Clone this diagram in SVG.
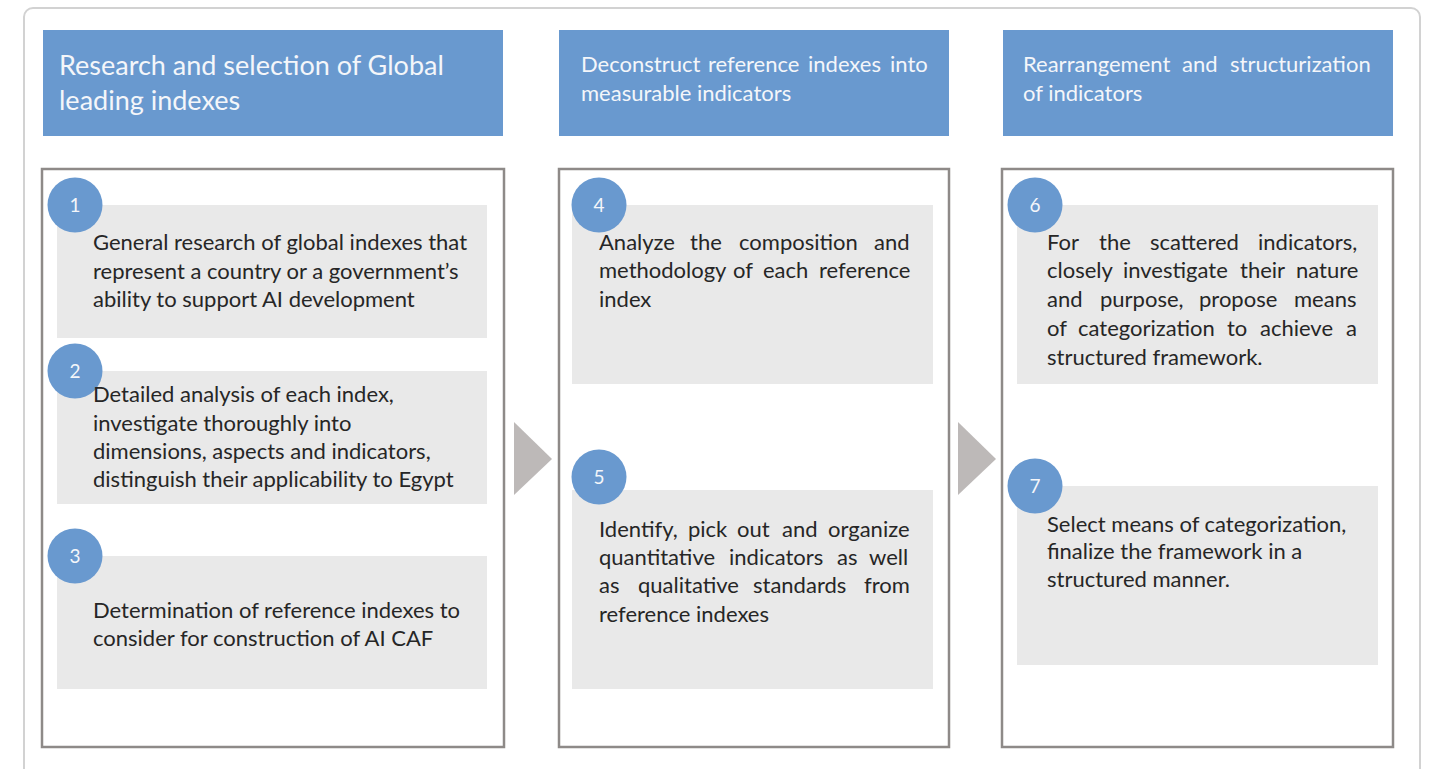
<svg xmlns="http://www.w3.org/2000/svg" width="1430" height="769" viewBox="0 0 1430 769">
<style>
.frame{fill:#ffffff;stroke:#d2d2d2;stroke-width:2}
.head{fill:#6999cf}
.col{fill:#ffffff;stroke:#8e8a88;stroke-width:2.5}
.card{fill:#e9e9e9}
.num{fill:#6999cf}
.ntxt{font-family:Lato,"Open Sans",sans-serif;font-size:19px;fill:#f4f6fa;text-anchor:middle}
.h1{font-family:Lato,"Open Sans",sans-serif;font-size:27px;fill:#f4f6fa}
.h2{font-family:Lato,"Open Sans",sans-serif;font-size:22px;fill:#f4f6fa}
.body{font-family:Lato,"Open Sans",sans-serif;font-size:22px;fill:#262626}
.arrow{fill:#bdb9b8}
</style>
<rect class="frame" x="24" y="8" width="1396" height="790" rx="9"/>

<g id="header1">
<rect class="head" x="43" y="30" width="460" height="106"/>
<text class="h1" x="59" y="75">Research and selection of Global</text>
<text class="h1" x="59" y="110">leading indexes</text>
</g>
<g id="header2">
<rect class="head" x="559" y="30" width="390" height="106"/>
<text class="h2" y="72"><tspan x="581">Deconstruct</tspan><tspan x="708">reference</tspan><tspan x="808">indexes</tspan><tspan x="890">into</tspan></text>
<text class="h2" x="581" y="101">measurable indicators</text>
</g>
<g id="header3">
<rect class="head" x="1003" y="30" width="390" height="106"/>
<text class="h2" y="72"><tspan x="1023">Rearrangement</tspan><tspan x="1182">and</tspan><tspan x="1230">structurization</tspan></text>
<text class="h2" x="1023" y="101">of indicators</text>
</g>

<g id="column1"><rect class="col" x="42" y="169" width="462" height="578"/></g>
<g id="column2"><rect class="col" x="559" y="169" width="390" height="578"/></g>
<g id="column3"><rect class="col" x="1002" y="169" width="391" height="578"/></g>

<g id="connectors">
<polygon class="arrow" points="514,422 552,459 514,495"/>
<polygon class="arrow" points="958,422 996,459 958,495"/>
</g>

<g id="step1">
<rect class="card" x="57" y="205" width="430" height="133"/>
<circle class="num" cx="75" cy="205" r="27.5"/>
<text class="ntxt" x="75" y="212">1</text>
<text class="body" x="93" y="250">General research of global indexes that</text>
<text class="body" x="93" y="279">represent a country or a government’s</text>
<text class="body" x="93" y="307">ability to support AI development</text>
</g>
<g id="step2">
<rect class="card" x="57" y="371" width="430" height="133"/>
<circle class="num" cx="75" cy="371" r="27.5"/>
<text class="ntxt" x="75" y="378">2</text>
<text class="body" x="93" y="402">Detailed analysis of each index,</text>
<text class="body" x="93" y="431">investigate thoroughly into</text>
<text class="body" x="93" y="459">dimensions, aspects and indicators,</text>
<text class="body" x="93" y="487">distinguish their applicability to Egypt</text>
</g>
<g id="step3">
<rect class="card" x="57" y="556" width="430" height="133"/>
<circle class="num" cx="75" cy="556" r="27.5"/>
<text class="ntxt" x="75" y="563">3</text>
<text class="body" x="93" y="618">Determination of reference indexes to</text>
<text class="body" x="93" y="646">consider for construction of AI CAF</text>
</g>

<g id="step4">
<rect class="card" x="572" y="205" width="361" height="179"/>
<circle class="num" cx="599" cy="205" r="27.5"/>
<text class="ntxt" x="599" y="212">4</text>
<text class="body" y="250"><tspan x="599">Analyze</tspan><tspan x="690">the</tspan><tspan x="739">composition</tspan><tspan x="874">and</tspan></text>
<text class="body" y="278"><tspan x="599">methodology</tspan><tspan x="733">of</tspan><tspan x="763">each</tspan><tspan x="819">reference</tspan></text>
<text class="body" x="599" y="307">index</text>
</g>
<g id="step5">
<rect class="card" x="572" y="490" width="361" height="199"/>
<circle class="num" cx="599" cy="477" r="27.5"/>
<text class="ntxt" x="599" y="484">5</text>
<text class="body" y="537"><tspan x="599">Identify,</tspan><tspan x="688">pick</tspan><tspan x="737">out</tspan><tspan x="782">and</tspan><tspan x="828">organize</tspan></text>
<text class="body" y="565"><tspan x="599">quantitative</tspan><tspan x="729">indicators</tspan><tspan x="837">as</tspan><tspan x="869">well</tspan></text>
<text class="body" y="593"><tspan x="599">as</tspan><tspan x="638">qualitative</tspan><tspan x="753">standards</tspan><tspan x="864">from</tspan></text>
<text class="body" x="599" y="622">reference indexes</text>
</g>

<g id="step6">
<rect class="card" x="1017" y="205" width="361" height="179"/>
<circle class="num" cx="1035" cy="205" r="27.5"/>
<text class="ntxt" x="1035" y="212">6</text>
<text class="body" y="250"><tspan x="1047">For</tspan><tspan x="1099">the</tspan><tspan x="1150">scattered</tspan><tspan x="1258">indicators,</tspan></text>
<text class="body" y="278"><tspan x="1047">closely</tspan><tspan x="1123">investigate</tspan><tspan x="1240">their</tspan><tspan x="1296">nature</tspan></text>
<text class="body" y="307"><tspan x="1047">and</tspan><tspan x="1100">purpose,</tspan><tspan x="1199">propose</tspan><tspan x="1294">means</tspan></text>
<text class="body" y="336"><tspan x="1047">of</tspan><tspan x="1078">categorization</tspan><tspan x="1227">to</tspan><tspan x="1260">achieve</tspan><tspan x="1346">a</tspan></text>
<text class="body" x="1047" y="365">structured framework.</text>
</g>
<g id="step7">
<rect class="card" x="1017" y="486" width="361" height="179"/>
<circle class="num" cx="1035" cy="486" r="27.5"/>
<text class="ntxt" x="1035" y="493">7</text>
<text class="body" x="1047" y="532">Select means of categorization,</text>
<text class="body" x="1047" y="559">finalize the framework in a</text>
<text class="body" x="1047" y="587">structured manner.</text>
</g>
</svg>
